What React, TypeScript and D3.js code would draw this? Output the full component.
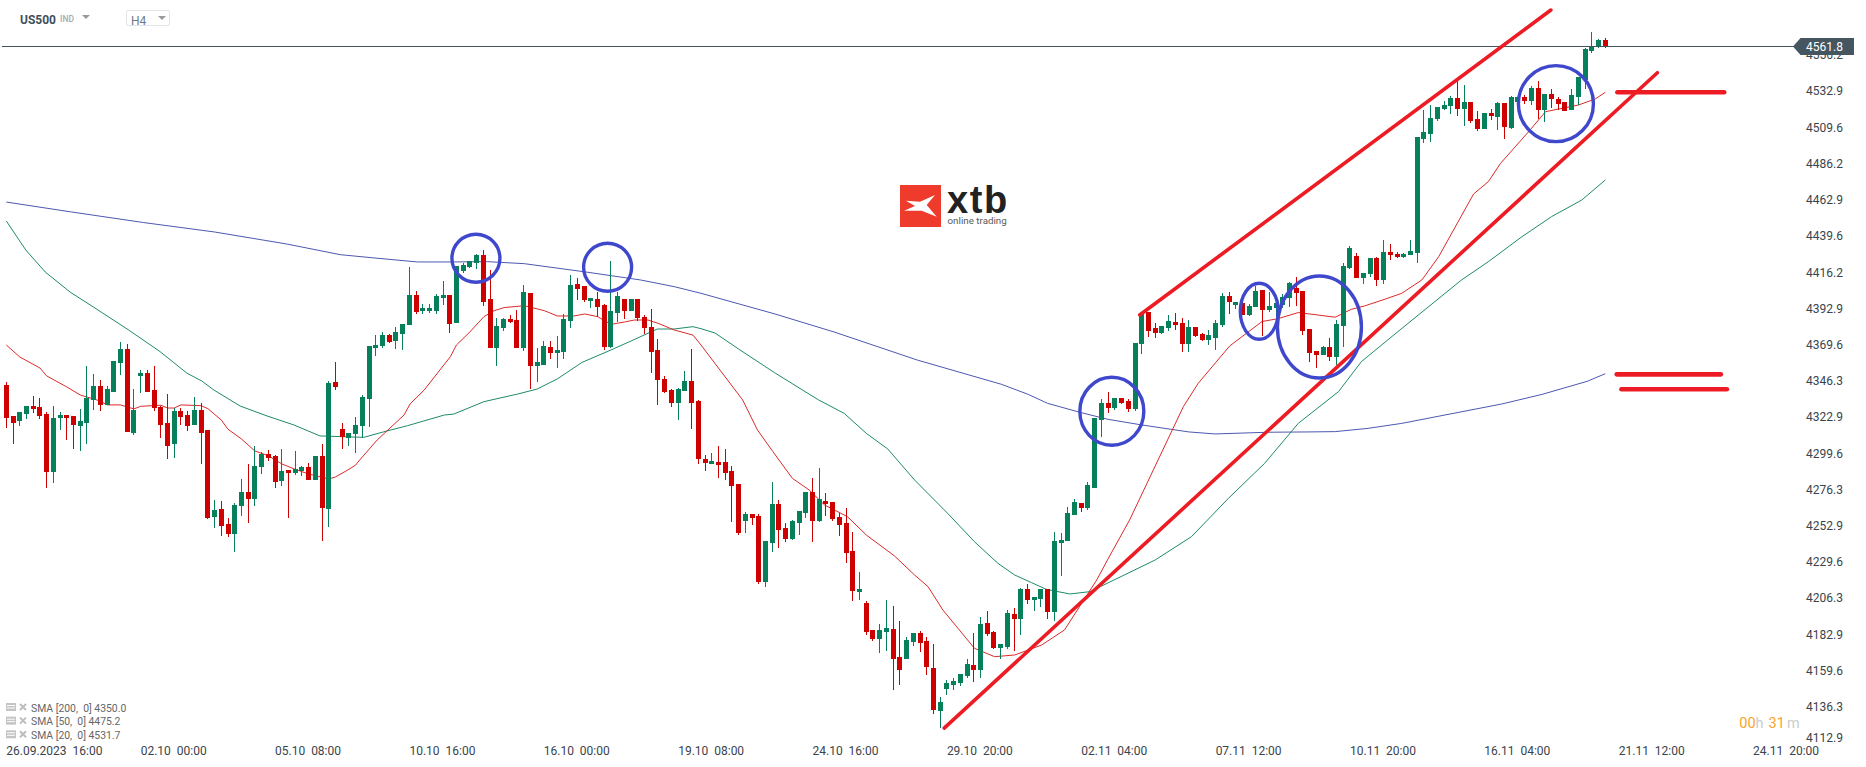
import React from "react";
import * as d3 from "d3";

const opens = [
4343.6,4323.6,4320.4,4324.9,4330,4329.4,4324.9,4287.5,4322.3,4324.2,
4323.6,4317.1,4319.1,4333.9,4342.9,4330.7,4339,4357.7,4366.8,4312.6,
4349.4,4351.3,4340.3,4329.4,4319.1,4305.5,4326.8,4324.2,4317.8,4327.4,
4314.6,4258.5,4263.7,4254,4247.5,4265.6,4274.6,4270.1,4290.7,4299.1,
4297.8,4281.7,4288.8,4286.9,4288.1,4290.7,4282.3,4297.8,4263.7,4345.5,
4315.2,4309.4,4312,4317.1,4334.5,4367.4,4368.6,4375.7,4371.9,4376.4,
4382.2,4401.5,4391.2,4391.2,4391.2,4399.6,4401.5,4383.5,4417,4419.6,
4422.1,4427.3,4398.9,4367.4,4380.2,4386,4385.4,4367.4,4402.8,4355.8,
4356.4,4368,4364.1,4364.8,4384.8,4408.6,4407.3,4397.6,4398.9,4395.1,
4368,4389.9,4398.9,4391.2,4398.9,4387.3,4380.9,4366.1,4347.4,4340.3,
4331.9,4339.7,4346.1,4333.2,4295.9,4292.7,4293.9,4293.9,4288.1,4279.8,
4255.9,4260.4,4259.1,4216.6,4241.8,4266.9,4251.4,4244.3,4254.6,4261.1,
4274.6,4255.9,4268.8,4268.2,4258.5,4254.6,4236.6,4210.2,4203.1,4185.7,
4179.9,4184.4,4186.3,4168.3,4167,4178,4183.8,4178.6,4161.2,4133.5,
4147.7,4150.2,4151.5,4156,4163.1,4159.9,4190.2,4184.4,4174.1,4174.7,
4196,4192.8,4212.1,4205,4205.6,4212.1,4197.3,4241.8,4243,4259.8,
4267.5,4264.3,4277.2,4321,4332,4328.7,4335.2,4333.2,4328.1,4370,
4390.6,4380.3,4377.1,4380.3,4384.1,4383.5,4370,4380.9,4376.4,4372.5,
4373.8,4382.2,4400.9,4395.1,4396.4,4388.7,4393.8,4404.8,4391.9,4393.2,
4395.1,4399.6,4406.1,4404.1,4379.6,4365.5,4362.9,4368,4361.6,4381.6,
4418.9,4426.7,4412.5,4415.1,4425.4,4411.2,4429.2,4428,4426,4427.3,
4428.6,4502,4505.3,4514.9,4521.4,4523.3,4528.4,4521.4,4525.9,4514.9,
4508.5,4518.8,4516.2,4525.2,4509.1,4525.9,4529.1,4526.5,4534.9,4520.7,
4531,4527.8,4525.9,4520.7,4529.1,4540,4558.7,4561.3,4565.8];

const closes = [
4322.3,4319.1,4326.2,4330,4328.1,4323.6,4287.5,4322.3,4324.2,4322.3,
4317.8,4320.4,4335.2,4342.9,4330.7,4341,4359,4366.8,4313.3,4327.4,
4351.3,4339,4328.7,4317.8,4304.2,4326.8,4322.9,4317.1,4327.4,4312.6,
4257.9,4263,4252.7,4247.5,4266.2,4274.6,4270.1,4291.4,4299.1,4296.5,
4281,4288.1,4286.9,4289.4,4290.7,4282.3,4297.8,4264.3,4344.8,4342.3,
4310.1,4312.6,4317.8,4335.8,4368.6,4369.3,4375.7,4371.2,4377.7,4382.8,
4401.5,4390.6,4393.1,4393.1,4400.9,4401.5,4382.8,4420.2,4420.8,4423.4,
4427.3,4397,4367.4,4381.5,4386,4384.1,4367.4,4403.4,4355.8,4358.3,
4368.6,4364.1,4366.1,4386,4408,4405.4,4398.3,4399.6,4393.8,4368,
4391.2,4400.9,4391.2,4398.9,4386.7,4380.2,4364.8,4346.7,4339,4331.9,
4340.9,4346.1,4331.9,4295.9,4293.3,4294.6,4292,4286.9,4278.5,4248.2,
4260.4,4257.9,4216.6,4243,4266.9,4250.1,4244.3,4255.9,4262.4,4274.6,
4255.9,4270.1,4266.9,4257.2,4253.3,4235.3,4210.8,4212.1,4184.4,4179.9,
4185.7,4187,4167,4159.9,4179.2,4183.8,4177.3,4161.8,4134.1,4139.3,
4151.5,4152.8,4157.3,4163.8,4159.9,4189.6,4183.1,4174.1,4176.7,4196.6,
4192.8,4212.1,4205,4207,4212.1,4197.3,4243,4243.7,4261.1,4268.2,
4264.3,4279.1,4322.3,4332,4328.7,4335.2,4332,4328.1,4370.6,4389.3,
4378.3,4377.1,4381.6,4384.8,4382.2,4370,4380.9,4375.1,4372.5,4375.8,
4383.5,4400.9,4397,4397,4388.7,4394.5,4404.1,4391.9,4394.5,4396.4,
4400.3,4409.3,4402.8,4378.3,4364.2,4362.9,4368,4361.6,4382.9,4420.2,
4431.8,4412.5,4415.7,4425.4,4411.2,4429.2,4427.3,4426,4427.9,4429.9,
4503.3,4506.5,4515.6,4522.6,4523.9,4528.4,4521.4,4525.9,4513.6,4508.5,
4518.8,4516.8,4525.2,4509.8,4529.1,4529.1,4526.5,4534.9,4520.7,4531,
4527.8,4524.6,4520.1,4530.4,4542,4560,4561.3,4565.8,4562];

const highs = [
4345.5,4323.6,4326.2,4330,4336.5,4335,4326.2,4330,4326.2,4324.2,
4323.6,4328.1,4355.8,4350.6,4346.8,4342.9,4359,4371.3,4370,4341,
4353.2,4353.2,4355.8,4330,4337.8,4328.7,4328.7,4326.8,4335.8,4332,
4314.6,4269.5,4268.8,4257.9,4267.5,4283,4292.7,4304.2,4300.4,4301.7,
4298.4,4302.3,4288.8,4301,4291.4,4293.3,4297.8,4305.5,4346.1,4358.4,
4319.1,4312.6,4322.9,4337.1,4368.6,4375.7,4377.7,4376.4,4380.9,4382.8,
4419.6,4404.1,4395.7,4395.7,4402.2,4410.5,4401.5,4420.2,4422.1,4423.4,
4427.9,4430.5,4417.6,4386.7,4386.7,4388.6,4391.8,4408,4402.8,4367.4,
4371.9,4371.9,4375.1,4389.3,4414.4,4412.5,4407.3,4399.6,4403.4,4395.7,
4423.4,4403.4,4398.9,4398.9,4398.9,4388.6,4392.5,4373.2,4349.3,4340.9,
4341.6,4352.5,4366.7,4333.9,4298.5,4299.7,4304.3,4302.3,4291.4,4279.8,
4261.7,4260.4,4260.4,4243,4281.1,4269.5,4254.6,4256.6,4262.4,4274.6,
4283.6,4290.1,4274,4268.2,4261.1,4264.3,4248.8,4223.1,4204.4,4185.7,
4189.6,4205,4201.2,4191.5,4181.2,4183.8,4185,4181.2,4176.7,4142.5,
4153.5,4154.8,4157.3,4167,4183.8,4194.1,4197.9,4185,4176.7,4198.6,
4199.9,4212.8,4215.3,4207,4212.1,4212.1,4248.8,4248.2,4264.9,4270.1,
4267.5,4281,4322.3,4334.5,4339,4335.2,4335.2,4334.5,4370.6,4389.3,
4390.6,4383.5,4381.6,4388.7,4389.9,4386.7,4385.4,4380.9,4377.1,4379,
4385.4,4402.8,4403.5,4397,4397,4395.7,4407.3,4404.8,4403.5,4397,
4402,4409.9,4413.1,4404.1,4379.6,4365.5,4368.7,4373.8,4385.4,4422.2,
4433.1,4428.6,4415.7,4425.4,4426,4437,4434.4,4429.2,4428.6,4436.9,
4503.3,4520.7,4523.9,4522.6,4526.5,4529.7,4540,4536.8,4525.9,4520.1,
4518.8,4521.4,4525.9,4525.2,4529.7,4529.1,4530.4,4536.2,4539.4,4531,
4534.2,4529.1,4525.9,4534.2,4542,4560.7,4571,4566.5,4567.1];

const lows = [
4315.8,4305.5,4317.1,4321.6,4325.5,4321.6,4277.2,4280.4,4314.6,4308.1,
4302.3,4301,4305.5,4327.4,4326.8,4330.7,4339,4350,4313.3,4311.3,
4338.4,4339,4326.8,4309.4,4295.9,4296.5,4317.8,4313.9,4317.8,4292.7,
4257.2,4251.4,4246.3,4245.6,4235.9,4259.1,4254.6,4265.6,4286.2,4294.6,
4277.2,4278.5,4257.9,4285.6,4284.9,4282.3,4282.3,4243,4252.1,4340.3,
4302.3,4304.2,4299.7,4309.4,4316.5,4362.2,4367.4,4370.6,4366.7,4366.1,
4382.2,4389.3,4389.3,4389.9,4389.3,4395.1,4377,4383.5,4415.7,4418.9,
4418.3,4394.4,4367.4,4355.8,4378.3,4383.5,4367.4,4365.4,4340.9,4345.4,
4356.4,4360.3,4354.5,4360.3,4380.2,4398.3,4397,4393.1,4387.3,4366.1,
4367.4,4384.1,4386,4391.2,4384.8,4376.4,4351.3,4330.6,4338.4,4329.3,
4321,4339.7,4315.2,4292.7,4288.1,4292.7,4283.6,4282.3,4255.3,4246.9,
4248.2,4253.3,4215.3,4213.4,4235.9,4238.5,4242.4,4243.7,4246.9,4257.9,
4242.4,4255.3,4259.1,4255.9,4246.3,4228.9,4204.4,4205,4182.5,4178.6,
4170.9,4172.2,4147,4150.2,4167,4175.4,4171.5,4156.7,4131.6,4122.5,
4143.8,4147,4149.6,4154.8,4152.2,4154.8,4181.8,4173.4,4167,4173.4,
4172.2,4182.5,4202.4,4197.9,4200.5,4192.8,4191.5,4220.5,4243,4259.8,
4261.7,4263,4277.2,4310,4325.5,4327.4,4331.3,4326.1,4326.8,4363.5,
4374.5,4373.8,4376.4,4378.3,4379,4364.8,4364.8,4374.5,4371.9,4369.3,
4366.1,4380.9,4389.3,4392.5,4388.7,4388,4393.8,4375.1,4390.6,4386.7,
4392.9,4393.8,4394.5,4375.8,4358.4,4354.5,4362.9,4359,4356.4,4368,
4418.3,4412.5,4408.6,4413.1,4407.3,4408.6,4424.1,4425.4,4425.3,4427.3,
4422.1,4499.5,4500.1,4513.6,4520.7,4518.1,4516.8,4510.4,4512.3,4507.2,
4508.5,4514.3,4507.8,4502,4508.5,4525.9,4524.6,4523.9,4514.9,4513,
4522,4520.7,4520.1,4520.7,4523.9,4534.2,4557.4,4560.7,4560.7];

const sma20Idx = [1,3,6,7,10,12,15,16,18,20,21,24,25,26,27,30,31,33,34,36,38,40,42,44,46,49,50,52,53,
53.6,56.2,60.2,61.1,63.2,67.1,68,70,72.1,73.6,75.1,78.1,81.1,83,85.5,87.1,89,91,93,94.5,96.5,98,100.4,103.2,104.4,
110.6,112.8,115.1,118,120.5,122.8,126.2,129,133.2,136.2,138.2,140.4,145.1,148.1,151.1,155.1,158.5,163.3,
164.9,168.2,176.2,178.4,183.1,187.9,190.3,193.3,198.8,201.2,203.2,206.2,208.7,211.7,214.2,219.4,221.6,223.4,227.6,230.1,235,237.5,239];
const sma20 = [4369.3,4361.6,4354.5,4349.4,4342.3,4337.1,4333.2,4330.7,4330.7,4328.1,4329.8,4330.5,4328.7,4328.7,4330.7,4330.2,4328.3,4321,4315,4308.8,4301,4298,4292.7,4289.2,4286.2,4283,4284.3,4289.2,4292,
4295.2,4308.1,4324.2,4331.3,4340.3,4361.8,4369.3,4377.7,4387.6,4391.4,4393.4,4394.6,4391.4,4388,4388,4389.3,4387.6,4382.6,4384.1,4385.4,4385.4,4383.3,4379,4375.7,4369.3,
4333.9,4314.6,4300.6,4283.4,4275.9,4266.2,4258.7,4246.9,4233.4,4221.1,4213.6,4198.6,4173.9,4168.5,4169.6,4176,4185.7,4217.9,
4230.8,4256.6,4329.6,4344.6,4368.7,4384.4,4386.3,4390.2,4387.2,4392.3,4394.5,4398.8,4402.6,4411.2,4426.2,4466.6,4474.6,4486.3,4506.8,4519.6,4523.9,4527.8,4532.1];

const sma50Idx = [1,3.9,6.8,10.5,14.2,19.2,23.9,27.9,30.1,31.9,35.8,39.8,43.8,47.7,
54.2,57.2,60.7,66.2,67.6,72.1,77.1,80,83,86.7,91,94,97.9,100.4,103.2,104.4,
106.5,110,115.3,121.9,125.7,129,132.2,136.2,141.1,145.1,148.6,151.1,153.6,155.8,159.3,162.3,
172,177.4,182.9,188.3,193.3,199.3,202.7,207.7,217.6,221.6,226.6,231,235.5,239];
const sma50 = [4449.2,4430.5,4416.3,4403.4,4393.1,4379,4365,4351.1,4346.1,4340.3,4330,4323.6,4317.8,4310.7,
4309.8,4313.4,4317.3,4324.2,4324.8,4332.8,4337.7,4340.9,4347.4,4358.1,4366.1,4371.9,4379.6,4379.6,4381.1,4379.8,
4377,4366.7,4351.6,4333.9,4325.3,4312.4,4302.3,4282.3,4260.9,4242.6,4228.6,4221.1,4216.2,4211.9,4208.9,4210.4,
4230.8,4245.8,4270.5,4293.1,4318.8,4339.3,4358.6,4376.4,4411.2,4423,4439.1,4452,4462.7,4475.6];

const sma200Idx = [1,10.7,21.4,32,42.7,50.7,55.7,62.2,67.6,72.6,78.1,87,95.4,100.4,104.4,115.4,124.2,136.6,
149.1,153.1,156,161,165,170,177,180.9,188.9,194.9,198.8,203.7,208.7,223.6,229.6,236.3,239];
const sma200 = [4461.4,4455,4448.2,4442.1,4434.4,4427.5,4425.4,4422.8,4422.8,4423,4421.7,4416.5,4411.2,4406.9,4402.6,4389.3,4377.7,4359.6,
4344,4337.5,4331.7,4325.7,4321.4,4317.8,4313.3,4312,4313.1,4313.3,4313.5,4315.6,4318.8,4331.3,4337.5,4345.9,4350.8];

const priceTicks = ["4556.2","4532.9","4509.6","4486.2","4462.9","4439.6","4416.2","4392.9","4369.6","4346.3","4322.9","4299.6","4276.3","4252.9","4229.6","4206.3","4182.9","4159.6","4136.3","4112.9"];
const timeTicks = ["26.09.2023  16:00","02.10  00:00","05.10  08:00","10.10  16:00","16.10  00:00","19.10  08:00","24.10  16:00","29.10  20:00","02.11  04:00","07.11  12:00","10.11  20:00","16.11  04:00","21.11  12:00","24.11  20:00"];
const smaLegend = ["SMA [200,  0] 4350.0","SMA [50,  0] 4475.2","SMA [20,  0] 4531.7"];
const lastPrice = 4561.8;

const trendLines = [
  { a: [140.6, 4122.5], b: [246.75, 4544.7], w: 3.6 },
  { a: [169.7, 4388.6], b: [230.9, 4585.1], w: 3.6 },
  { a: [240.8, 4532.1], b: [256.7, 4532.1], w: 4.6 },
  { a: [240.7, 4350.4], b: [256.2, 4350.4], w: 4.6 },
  { a: [241.4, 4340.8], b: [257.1, 4340.8], w: 4.6 },
];
const circles = [
  { i: 70.9, p: 4425.2, rx: 24, ry: 24 },
  { i: 90.5, p: 4419.4, rx: 24, ry: 24 },
  { i: 165.55, p: 4326.6, rx: 32, ry: 34 },
  { i: 187.5, p: 4391, rx: 19, ry: 28 },
  { i: 196.45, p: 4380.9, rx: 42, ry: 51 },
  { i: 231.65, p: 4524.8, rx: 37.5, ry: 38 },
];

const UP = "#05805a";
const DOWN = "#cf0000";
const FONT = "Roboto, sans-serif";

export default function App() {
  const x = d3.scaleLinear().domain([1, 239]).range([6.3, 1605.3]);
  const y = d3.scaleLinear().domain([4346.3, 4561.8]).range([380.7, 46.2]);
  const line = (idx: number[], vals: number[]) =>
    d3.line<number>().x((_, k) => x(idx[k])).y((v) => y(v))(vals) || "";
  const candleIdx = d3.range(opens.length);

  return (
    <svg width={1866} height={767} style={{ position: "absolute", left: 0, top: 0, display: "block", background: "#fff", fontFamily: FONT }}>
      {/* header */}
      <text x={20} y={23.5} fontSize={12} fontWeight={700} fill="#3f4f5a">US500</text>
      <text x={60} y={22} fontSize={8.5} fontWeight={500} fill="#a6abae">IND</text>
      <path d="M82 15h8l-4 4z" fill="#9a9a9a" />
      <rect x={126.5} y={10.5} width={43} height={15} rx={2} fill="#fff" stroke="#e2e4e6" />
      <text x={131} y={24.5} fontSize={12} fill="#6d7b85">H4</text>
      <path d="M158 16h8l-4 4z" fill="#9a9a9a" />

      {/* logo */}
      <rect x={900} y={185} width={41} height={42} fill="#ef3b2b" />
      <path d="M906 200.7L920 201.7L935 195L926.7 205L936.7 216.7L921.7 210.7L904 210.7L915 206Z" fill="#fff" />
      <text x={947} y={213} fontFamily="Liberation Sans, sans-serif" fontWeight={700} fontSize={38} letterSpacing={1.6} fill="#222">xtb</text>
      <text x={947.5} y={223.5} fontSize={9.8} fill="#5a5a5a">online trading</text>

      {/* moving averages */}
      <path d={line(sma200Idx, sma200)} fill="none" stroke="#4d58b0" strokeWidth={1} />
      <path d={line(sma50Idx, sma50)} fill="none" stroke="#1f8a69" strokeWidth={1} />
      <path d={line(sma20Idx, sma20)} fill="none" stroke="#dc2a2a" strokeWidth={1} />

      {/* candles */}
      {candleIdx.map((k) => {
        const cx = Math.floor(x(k + 1));
        const up = closes[k] >= opens[k];
        const top = Math.round(y(Math.max(opens[k], closes[k])));
        const bot = Math.round(y(Math.min(opens[k], closes[k])));
        const hi = Math.round(y(highs[k]));
        const lo = Math.round(y(lows[k]));
        const c = up ? UP : DOWN;
        return (
          <g key={k} shapeRendering="crispEdges" fill={c}>
            <rect x={cx} y={hi} width={1} height={Math.max(1, lo - hi)} />
            <rect x={cx - 2} y={top} width={5} height={Math.max(2, bot - top)} />
          </g>
        );
      })}

      {/* last price line */}
      <line x1={2} x2={1796} y1={Math.floor(y(lastPrice)) + 0.5} y2={Math.floor(y(lastPrice)) + 0.5} stroke="#44545f" strokeWidth={1} />

      {/* annotations */}
      {trendLines.map((t, k) => (
        <line key={k} x1={x(t.a[0])} y1={y(t.a[1])} x2={x(t.b[0])} y2={y(t.b[1])} stroke="#ed1c24" strokeWidth={t.w} strokeLinecap="round" />
      ))}
      {circles.map((c, k) => (
        <ellipse key={k} cx={x(c.i)} cy={y(c.p)} rx={c.rx} ry={c.ry} fill="none" stroke="#3f48cc" strokeWidth={3.4} />
      ))}

      {/* price axis */}
      {priceTicks.map((t) => (
        <text key={t} x={1806} y={Math.min(y(+t), 737.7)} dy="0.36em" fontSize={12} fill="#3a444c">{t}</text>
      ))}
      <path d="M1793 46.5L1800.5 38H1854V55H1800.5Z" fill="#465660" />
      <text x={1806} y={47} dy="0.36em" fontSize={12} fill="#fff">{lastPrice.toFixed(1)}</text>

      {/* time axis */}
      {timeTicks.map((t, k) => (
        <text key={t} x={x(1 + k * 20)} y={755} fontSize={12} fill="#3a444c" style={{ whiteSpace: "pre" }} xmlSpace="preserve">{t}</text>
      ))}

      {/* legend */}
      {smaLegend.map((t, k) => {
        const cy = 708 + k * 13.65;
        return (
          <g key={t}>
            <rect x={6} y={cy - 5} width={10} height={8} fill="#c4c4c4" />
            <rect x={7} y={cy - 3} width={8} height={1} fill="#fff" />
            <rect x={7} y={cy - 0.5} width={8} height={1} fill="#fff" />
            <path d={`M20 ${cy - 4}L26 ${cy + 2}M26 ${cy - 4}L20 ${cy + 2}`} stroke="#bdbdbd" strokeWidth={2} />
            <text x={31} y={cy + 3.5} fontSize={10.4} fill="#666" style={{ whiteSpace: "pre" }} xmlSpace="preserve">{t}</text>
          </g>
        );
      })}

      {/* timer */}
      <text x={1739.3} y={727.5} fontSize={14.5}>
        <tspan fill="#f7a428">00</tspan><tspan fill="#cccccc">h</tspan><tspan dx={5} fill="#f7a428">31</tspan><tspan dx={2} fill="#cccccc">m</tspan>
      </text>
    </svg>
  );
}
